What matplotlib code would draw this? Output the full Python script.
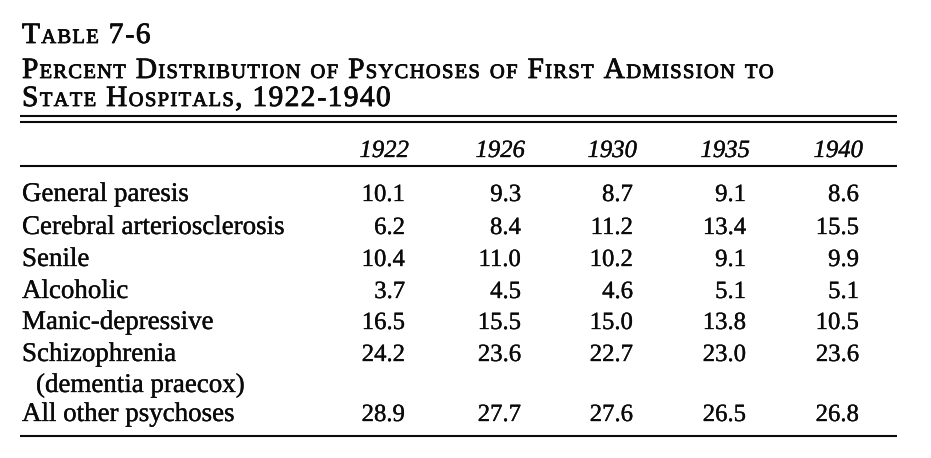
import matplotlib.pyplot as plt
import matplotlib.patheffects as pe

years = ['1922', '1926', '1930', '1935', '1940']
categories = ['General paresis', 'Cerebral arteriosclerosis', 'Senile', 'Alcoholic',
              'Manic-depressive', 'Schizophrenia', 'All other psychoses']
sub_labels = {'Schizophrenia': '(dementia praecox)'}
values = {
    'General paresis':           [10.1, 9.3, 8.7, 9.1, 8.6],
    'Cerebral arteriosclerosis': [6.2, 8.4, 11.2, 13.4, 15.5],
    'Senile':                    [10.4, 11.0, 10.2, 9.1, 9.9],
    'Alcoholic':                 [3.7, 4.5, 4.6, 5.1, 5.1],
    'Manic-depressive':          [16.5, 15.5, 15.0, 13.8, 10.5],
    'Schizophrenia':             [24.2, 23.6, 22.7, 23.0, 23.6],
    'All other psychoses':       [28.9, 27.7, 27.6, 26.5, 26.8],
}
title_lines = ['Table 7-6',
               'Percent Distribution of Psychoses of First Admission to',
               'State Hospitals, 1922-1940']

W, H = 931, 458
FONT = 'Liberation Serif'
INK = '#0a0a0a'


def ink(w):
    return [pe.withStroke(linewidth=w, foreground=INK)]


fig = plt.figure(figsize=(W / 100, H / 100), dpi=100)
ax = fig.add_axes([0, 0, 1, 1])
ax.set_xlim(0, W)
ax.set_ylim(H, 0)
ax.axis('off')
renderer = fig.canvas.get_renderer()


def txt(x, y, s, size, stroke=0.25, **kw):
    return ax.text(x, y, s, fontsize=size, family=FONT, va='baseline',
                   color=INK, path_effects=ink(stroke), **kw)


def small_caps(x, y, s, big=21.2, small=14.8, track=1.35):
    # fake small caps: capitals at full size, lower case as smaller capitals
    for ch in s:
        size = small if ch.islower() else big
        t = txt(x, y, ch.upper(), size, stroke=0.6, ha='left')
        x += t.get_window_extent(renderer).width + track


# title
for line, y in zip(title_lines, [43, 78, 106]):
    small_caps(22, y, line)

# rules
x0, x1 = 20, 897
for y in [116, 122, 166, 436]:
    ax.plot([x0, x1], [y, y], color=INK, lw=1.5, solid_capstyle='butt')

col_right = [405, 521, 633, 746, 859]
label_fs = 19.4
num_fs = 17.8

for yr, xr in zip(years, col_right):
    txt(xr + 4, 157, yr, num_fs, style='italic', ha='right')

row_y = [201, 234, 266, 298, 329, 361, 421]
for cat, y in zip(categories, row_y):
    txt(22, y, cat, label_fs, ha='left')
    if cat in sub_labels:
        txt(36, y + 31, sub_labels[cat], label_fs, ha='left')
    for v, xr in zip(values[cat], col_right):
        txt(xr, y, f'{v:.1f}', num_fs, ha='right')

fig.savefig('out.png', dpi=100)
